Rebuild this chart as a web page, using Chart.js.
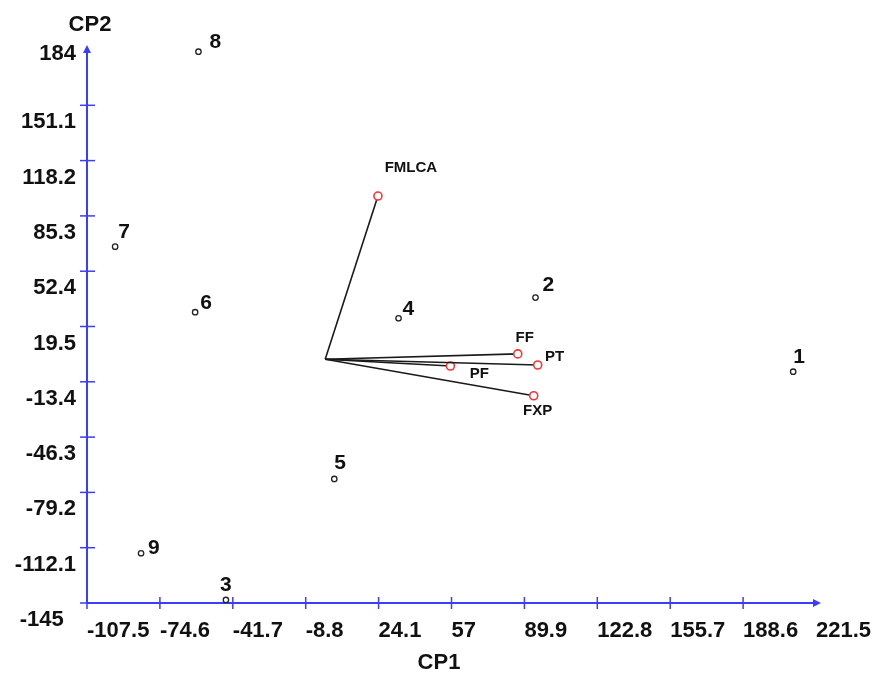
<!DOCTYPE html>
<html>
<head>
<meta charset="utf-8">
<script src="https://cdn.jsdelivr.net/npm/chart.js@4.4.1/dist/chart.umd.min.js"></script>
<style>
  html, body { margin: 0; padding: 0; background: #fff; }
  canvas { display: block; }
</style>
</head>
<body>
<canvas id="biplot" width="875" height="674"></canvas>
<script>
// --- dados ---
const xTicks = [-107.5, -74.6, -41.7, -8.8, 24.1, 57, 89.9, 122.8, 155.7, 188.6, 221.5];
const yTicks = [-145, -112.1, -79.2, -46.3, -13.4, 19.5, 52.4, 85.3, 118.2, 151.1, 184];

// genótipos (escores em CP1 e CP2)
const pontoNomes = ['1', '2', '3', '4', '5', '6', '7', '8', '9'];
const pontoCP1 = [211.2, 94.9, -44.8, 33.1, 4.1, -58.7, -94.8, -57.2, -83.1];
const pontoCP2 = [-7.4, 36.7, -143.2, 24.4, -71.2, 28.0, 67.0, 183.0, -115.4];

// variáveis (vetores a partir da origem)
const varNomes = ['FMLCA', 'FF', 'PT', 'PF', 'FXP'];
const varCP1 = [23.8, 86.9, 95.9, 56.5, 94.1];
const varCP2 = [97.1, 3.2, -3.4, -4.0, -21.7];

// deslocamento dos rótulos (px)
const pontoNudge = [[0, -15], [7, -12], [-6, -15], [4, -9], [0, -16], [5, -9], [3, -14], [11, -9], [7, -5]];
const varNudge = [[33, -28], [7, -16], [17, -8], [29, 8], [4, 15]];

const azul = '#3c3cff';
const fonte = "'Liberation Sans', Arial, sans-serif";

// --- plugin: marcas dos eixos, setas e rótulos ---
const eixos = {
    id: 'eixos',
    afterDatasetsDraw(chart) {
        const { ctx, chartArea: a, scales: { x, y } } = chart;
        ctx.save();
        ctx.strokeStyle = azul;
        ctx.fillStyle = azul;
        ctx.lineWidth = 1.5;

        xTicks.slice(0, -1).forEach(v => {
            const px = x.getPixelForValue(v);
            ctx.beginPath();
            ctx.moveTo(px, a.bottom - 6);
            ctx.lineTo(px, a.bottom + 6);
            ctx.stroke();
        });
        yTicks.slice(0, -1).forEach(v => {
            const py = y.getPixelForValue(v);
            ctx.beginPath();
            ctx.moveTo(a.left - 7, py);
            ctx.lineTo(a.left + 8, py);
            ctx.stroke();
        });

        // setas
        ctx.beginPath();
        ctx.moveTo(a.right + 5, a.bottom);
        ctx.lineTo(a.right - 3, a.bottom - 4);
        ctx.lineTo(a.right - 3, a.bottom + 4);
        ctx.closePath();
        ctx.fill();
        ctx.beginPath();
        ctx.moveTo(a.left, a.top - 5);
        ctx.lineTo(a.left - 4, a.top + 3);
        ctx.lineTo(a.left + 4, a.top + 3);
        ctx.closePath();
        ctx.fill();

        ctx.fillStyle = '#111';
        ctx.textBaseline = 'middle';

        // rótulos dos genótipos
        ctx.font = 'bold 21px ' + fonte;
        ctx.textAlign = 'left';
        pontoNomes.forEach((n, i) => {
            const px = x.getPixelForValue(pontoCP1[i]);
            const py = y.getPixelForValue(pontoCP2[i]);
            ctx.fillText(n, px + pontoNudge[i][0], py + pontoNudge[i][1]);
        });

        // rótulos das variáveis
        ctx.font = 'bold 15px ' + fonte;
        ctx.textAlign = 'center';
        varNomes.forEach((n, i) => {
            const px = x.getPixelForValue(varCP1[i]);
            const py = y.getPixelForValue(varCP2[i]);
            ctx.fillText(n, px + varNudge[i][0], py + varNudge[i][1]);
        });

        // títulos dos eixos
        ctx.font = 'bold 22px ' + fonte;
        ctx.fillText('CP2', a.left + 3, 25);
        ctx.fillText('CP1', 439, 663);
        ctx.restore();
    }
};

// --- datasets ---
const vetores = varNomes.map((n, i) => ({
    label: n,
    data: [{ x: 0, y: 0 }, { x: varCP1[i], y: varCP2[i] }],
    showLine: true,
    borderColor: '#1a1a1a',
    borderWidth: 1.6,
    pointRadius: [0, 4],
    pointBorderColor: '#ff3030',
    pointBackgroundColor: '#fff',
    pointBorderWidth: 1.6,
    clip: false
}));

const genotipos = {
    label: 'Genótipos',
    data: pontoCP1.map((v, i) => ({ x: v, y: pontoCP2[i] })),
    showLine: false,
    pointRadius: 2.7,
    pointBorderColor: '#222',
    pointBackgroundColor: '#fff',
    pointBorderWidth: 1.3,
    clip: false
};

const tickFont = { family: fonte, size: 22, weight: 'bold' };

new Chart(document.getElementById('biplot'), {
    type: 'scatter',
    data: { datasets: [...vetores, genotipos] },
    options: {
        responsive: false,
        animation: false,
        events: [],
        layout: { padding: { top: 50, right: 59, bottom: 0, left: 0 } },
        plugins: {
            legend: { display: false },
            tooltip: { enabled: false }
        },
        scales: {
            x: {
                type: 'linear',
                position: 'bottom',
                min: xTicks[0],
                max: xTicks[xTicks.length - 1],
                afterBuildTicks: s => { s.ticks = xTicks.map(v => ({ value: v })); },
                afterFit: s => { s.height = 71; s.paddingLeft = 0; s.paddingRight = 0; },
                grid: { display: false, drawTicks: false },
                border: { display: true, color: azul, width: 2 },
                ticks: {
                    align: 'start',
                    padding: 15,
                    maxRotation: 0,
                    minRotation: 0,
                    autoSkip: false,
                    color: '#111',
                    font: tickFont,
                    callback: v => String(v)
                }
            },
            y: {
                type: 'linear',
                position: 'left',
                min: yTicks[0],
                max: yTicks[yTicks.length - 1],
                afterBuildTicks: s => { s.ticks = yTicks.map(v => ({ value: v })); },
                afterFit: s => { s.width = 87; s.paddingTop = 0; s.paddingBottom = 0; },
                grid: { display: false, drawTicks: false },
                border: { display: true, color: azul, width: 2 },
                ticks: {
                    padding: 11,
                    labelOffset: 17,
                    autoSkip: false,
                    color: '#111',
                    font: tickFont,
                    callback: v => {
                        if (v === 184) return ['184', ''];
                        if (v === -145) return '-145  ';
                        return String(v);
                    }
                }
            }
        }
    },
    plugins: [eixos]
});
</script>
</body>
</html>
